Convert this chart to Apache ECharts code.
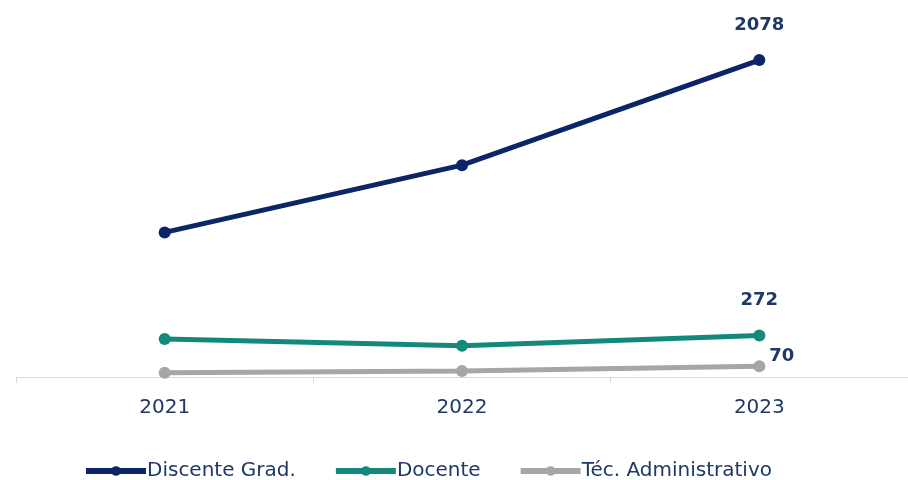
<!DOCTYPE html>
<html>
<head>
<meta charset="utf-8">
<title>Discente / Docente / Técnico</title>
<script src="https://cdn.jsdelivr.net/npm/echarts@6/dist/echarts.min.js"></script>
<style>
    html, body { margin: 0; padding: 0; background: #ffffff; }
    #lineChart { width: 908px; height: 480px; }
</style>
</head>
<body>
<div id="lineChart"></div>
<script>
// dados do gráfico
var anos = ['2021', '2022', '2023'];
var discenteGrad = [948, 1389, 2078];
var docente = [249, 205, 272];
var tecAdmin = [28, 39, 70];
var nomesSeries = ['Discente Grad.', 'Docente', 'Téc. Administrativo'];
var cores = ['#0B2566', '#13897C', '#A6A6A6'];

var page = {
    init: function () {
        this.loadLineChart();
    },
    // rótulo só no último ponto
    lastLabel: function (data, opts) {
        return data.map(function (v, i) {
            if (i < data.length - 1) return v;
            return { value: v, label: opts };
        });
    },
    loadLineChart: function () {
        var myChart = echarts.init(document.getElementById('lineChart'));
        var labelBase = {
            show: true,
            color: '#1F3864',
            fontFamily: 'DejaVu Sans',
            fontWeight: 'bold',
            fontSize: 18
        };
        var labelTop = Object.assign({}, labelBase, { position: 'top', distance: 20 });
        var labelRight = Object.assign({}, labelBase, { position: 'right', distance: 4, offset: [0, -10] });
        var todas = [discenteGrad, docente, tecAdmin];
        var labels = [labelTop, labelTop, labelRight];

        var series = todas.map(function (d, i) {
            return {
                name: nomesSeries[i],
                type: 'line',
                data: page.lastLabel(d, labels[i]),
                symbol: 'circle',
                symbolSize: 12,
                lineStyle: { width: 5, color: cores[i] },
                itemStyle: { color: cores[i] },
                label: { show: false },
                animation: false
            };
        });

        myChart.setOption({
            grid: {
                left: 16,
                top: 11,
                width: 896,
                bottom: 103
            },
            legend: {
                left: 78,
                top: 456,
                itemWidth: 60,
                itemHeight: 12,
                itemGap: 37,
                lineStyle: { width: 6 },
                textStyle: {
                    color: '#1F3864',
                    fontFamily: 'DejaVu Sans',
                    fontSize: 20,
                    padding: [0, 0, 0, -4]
                },
                data: nomesSeries
            },
            xAxis: {
                type: 'category',
                data: anos,
                boundaryGap: true,
                axisLine: { lineStyle: { color: '#D9D9D9', width: 1 } },
                axisTick: { show: true, length: 6, lineStyle: { color: '#D9D9D9' } },
                axisLabel: {
                    color: '#1F3864',
                    fontFamily: 'DejaVu Sans',
                    fontSize: 20,
                    margin: 21
                },
                splitLine: { show: false }
            },
            yAxis: {
                type: 'value',
                min: 0,
                max: 2400,
                show: false,
                splitLine: { show: false }
            },
            series: series
        });
    }
};

page.init();
</script>
</body>
</html>
